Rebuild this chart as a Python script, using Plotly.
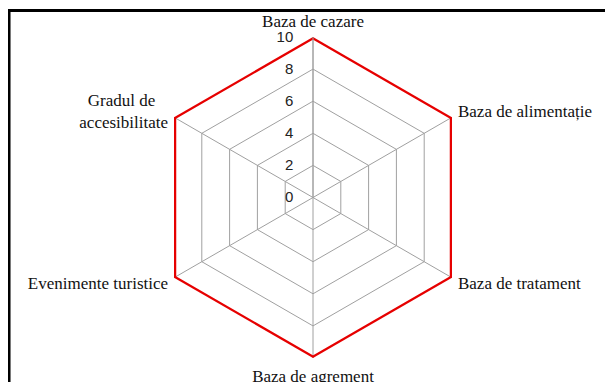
"""Radar — baza turistică (6 criterii, scor 0-10)."""
import plotly.graph_objects as go

categories = [
    "Baza de cazare",
    "Baza de alimentație",
    "Baza de tratament<br>\u00a0",
    "Baza de agrement",
    "Evenimente turistice<br>\u00a0",
    "\u00a0<br>Gradul de\u00a0\u00a0\u00a0<br>accesibilitate",
]
scores = [10, 10, 10, 10, 10, 10]
radial_ticks = [0, 2, 4, 6, 8, 10]

_SERIF = "Liberation Serif"
_GRID = "#a0a0a0"
_RED = "#e60000"

# pagina are 8px margine implicită în body -> figura e mai mică cu 8px
fig = go.Figure()
fig.add_trace(go.Scatterpolar(
    r=scores + scores[:1],
    theta=categories + categories[:1],
    mode="lines",
    line=dict(color=_RED, width=4.5),
    showlegend=False,
))

fig.update_layout(
    width=605,
    height=374,
    margin=dict(l=14, r=9, t=28.5, b=23.5),
    paper_bgcolor="white",
    plot_bgcolor="white",
    polar=dict(
        bgcolor="white",
        gridshape="linear",
        angularaxis=dict(
            rotation=90,
            direction="clockwise",
            showline=False,
            showgrid=True,
            gridcolor=_GRID,
            gridwidth=1,
            ticks="outside",
            ticklen=3,
            tickcolor="rgba(0,0,0,0)",
            tickfont=dict(family=_SERIF, size=17, color="#111111"),
        ),
        radialaxis=dict(
            range=[0, 10],
            tickvals=radial_ticks,
            angle=90,
            tickangle=90,
            side="counterclockwise",
            showline=True,
            linecolor=_GRID,
            linewidth=1,
            gridcolor=_GRID,
            gridwidth=1,
            ticks="outside",
            ticklen=14,
            tickcolor="rgba(0,0,0,0)",
            tickfont=dict(family="Liberation Sans", size=15, color="#222222"),
        ),
    ),
    shapes=[dict(
        type="rect", xref="paper", yref="paper",
        x0=-0.0223, x1=1.2, y0=-0.3, y1=1.0823,
        line=dict(color="black", width=3),
        fillcolor="rgba(0,0,0,0)",
    )],
)

fig.write_html("out.html")
